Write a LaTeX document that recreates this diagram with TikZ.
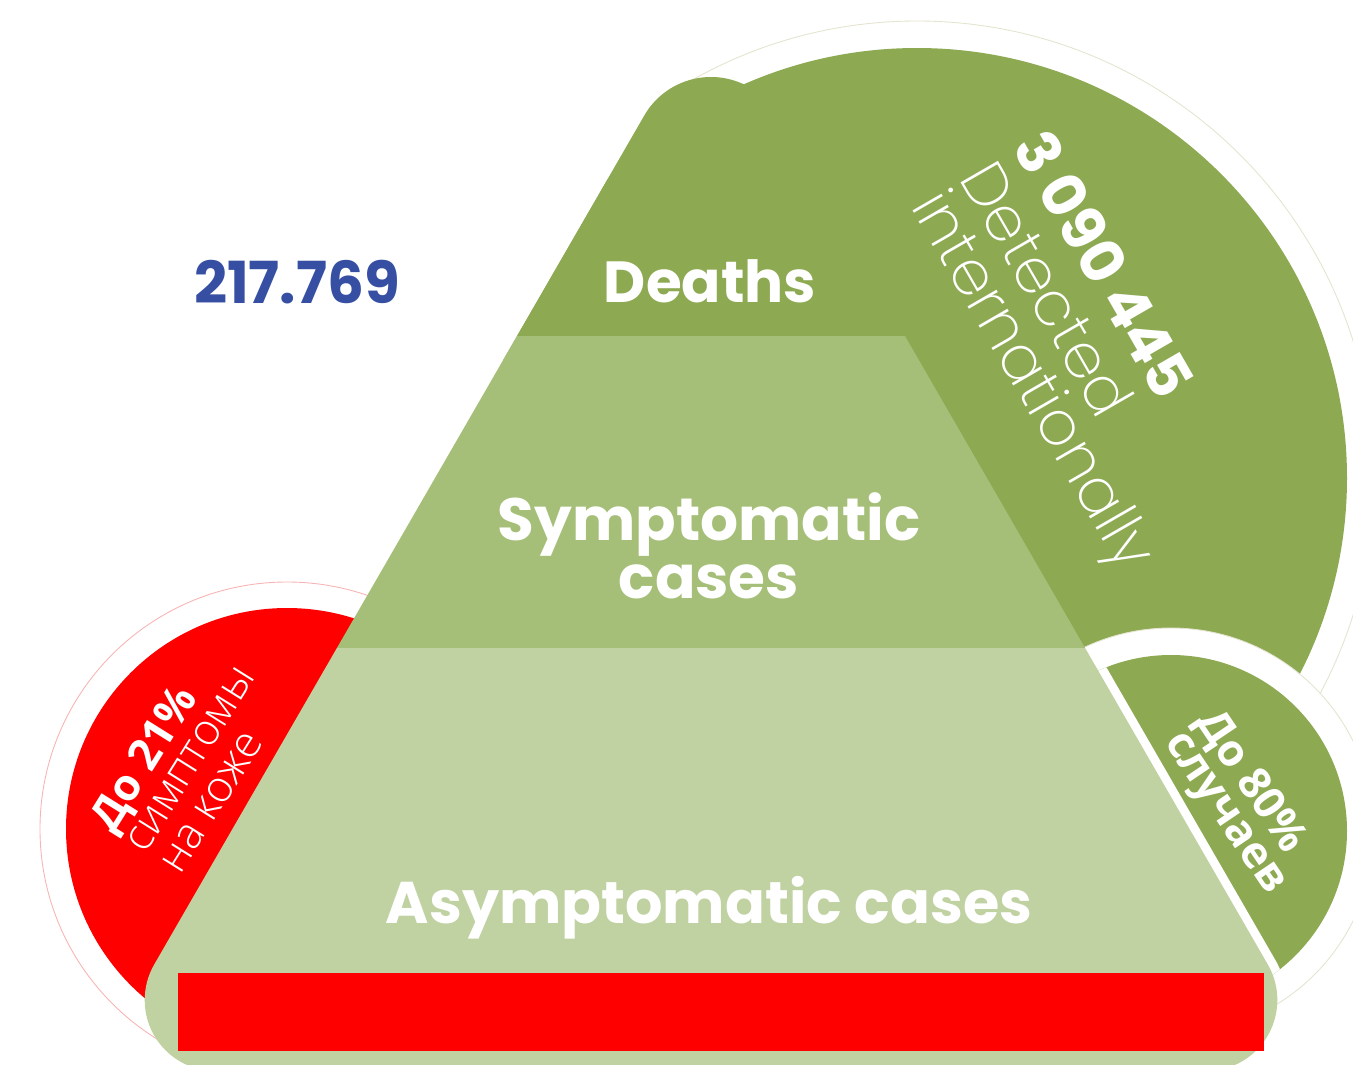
\documentclass[tikz,border=0pt]{standalone}
\usepackage{fontspec}
\setmainfont{Poppins}
\IfFontExistsTF{Poppins ExtraLight}{\newfontfamily\thinfont{Poppins ExtraLight}}{%
  \IfFontExistsTF{Poppins Light}{\newfontfamily\thinfont{Poppins Light}}{\newfontfamily\thinfont{Poppins}}}
\newfontfamily\cyrfont{Open Sans}
\IfFontExistsTF{Open Sans Light}{\newfontfamily\cyrthin{Open Sans Light}}{%
  \IfFontExistsTF{DejaVu Sans ExtraLight}{\newfontfamily\cyrthin{DejaVu Sans ExtraLight}}{\newfontfamily\cyrthin{DejaVu Sans}}}
\definecolor{gdark}{RGB}{141,169,82}
\definecolor{gmid}{RGB}{165,191,120}
\definecolor{glight}{RGB}{192,209,162}
\definecolor{mred}{RGB}{255,0,0}
\definecolor{mblue}{RGB}{54,79,162}
\definecolor{ringline}{RGB}{228,228,208}
\definecolor{ringred}{RGB}{248,180,180}
\tikzset{ring/.style = {fill=white, draw=ringline, line width=0.5pt},
  wtxt/.style = {text=white, inner sep=0}}
% pyramid: sides at 60 degrees, rounded apex and base corners
\newcommand{\pyramidpath}{(644.3,115.5) arc [start angle=210, end angle=330, radius=77]
  -- (1267.8,964.5) arc [start angle=-30, end angle=90, radius=71]
  -- (215.7,1071) arc [start angle=90, end angle=210, radius=71] -- cycle}

\begin{document}
\begin{tikzpicture}[x=0.02cm, y=-0.02cm]
  \useasboundingbox (0,0) rectangle (1353,1065);
  \clip (0,0) rectangle (1353,1065);

  % big circle, only right of the pyramid's left side
  \begin{scope}
    \clip (740,-50) -- (92.7,1071) -- (1400,1100) -- (1400,-50) -- cycle;
    \draw [ring] (917,478) circle (457);
    \fill [gdark] (917,478) circle (430);
  \end{scope}
  \draw [ring] (1171,831) circle (203);
  \fill [gdark] (1171,831) circle (176);
  \draw [ring, draw=ringred] (287,829) circle (247);
  \fill [mred] (287,829) circle (221);

  % white gap along the right edge
  \begin{scope}
    \clip (1171,831) circle (176);
    \draw [white, line width=10pt] \pyramidpath;
  \end{scope}

  % pyramid bands
  \begin{scope}
    \clip \pyramidpath;
    \fill [gdark] (0,-10) rectangle (1353,336);
    \fill [gmid] (0,336) rectangle (1353,648);
    \fill [glight] (0,648) rectangle (1353,1100);
  \end{scope}
  \fill [mred] (178,973) rectangle (1264,1051);

  % labels
  \node [inner sep=0, text=mblue, font=\fontsize{33}{33}\selectfont\bfseries, anchor=base] (total) at (297,303) {217.769};
  \node [wtxt, font=\fontsize{33}{33}\selectfont\bfseries, anchor=base] (deaths) at (710,302) {Deaths};
  \node [wtxt, font=\fontsize{34}{34}\selectfont\bfseries, anchor=base] (symp) at (709,540) {Symptomatic};
  \node [wtxt, font=\fontsize{34}{34}\selectfont\bfseries, anchor=base] (sympcases) at (709,598) {cases};
  \node [wtxt, font=\fontsize{33.5}{33.5}\selectfont\bfseries, anchor=base] (asym) at (709,923) {Asymptomatic cases};

  \node [wtxt, rotate=-60, anchor=base west, font=\fontsize{34}{34}\selectfont\bfseries] (detnum) at (1011,147) {3 090 445};
  \node [wtxt, rotate=-60, anchor=base west, font=\fontsize{35}{35}\selectfont\thinfont] (det) at (958,178) {Detected};
  \node [wtxt, rotate=-60, anchor=base west, font=\fontsize{35}{35}\selectfont\thinfont] (intl) at (910,206) {internationally};

  \node [wtxt, rotate=58, anchor=base west, font=\fontsize{25}{25}\selectfont\cyrfont\bfseries] (skinnum) at (113,835) {До 21\%};
  \node [wtxt, rotate=58, anchor=base west, font=\fontsize{25}{25}\selectfont\cyrthin] (skin1) at (145,855) {симптомы};
  \node [wtxt, rotate=58, anchor=base west, font=\fontsize{25}{25}\selectfont\cyrthin] (skin2) at (180,876) {на коже};

  \node [wtxt, rotate=-56, anchor=base west, font=\fontsize{25}{25}\selectfont\cyrfont\bfseries] (casenum) at (1195,721) {До 80\%};
  \node [wtxt, rotate=-56, anchor=base west, font=\fontsize{25}{25}\selectfont\cyrfont\bfseries] (casetxt) at (1164,742) {случаев};
\end{tikzpicture}
\end{document}
